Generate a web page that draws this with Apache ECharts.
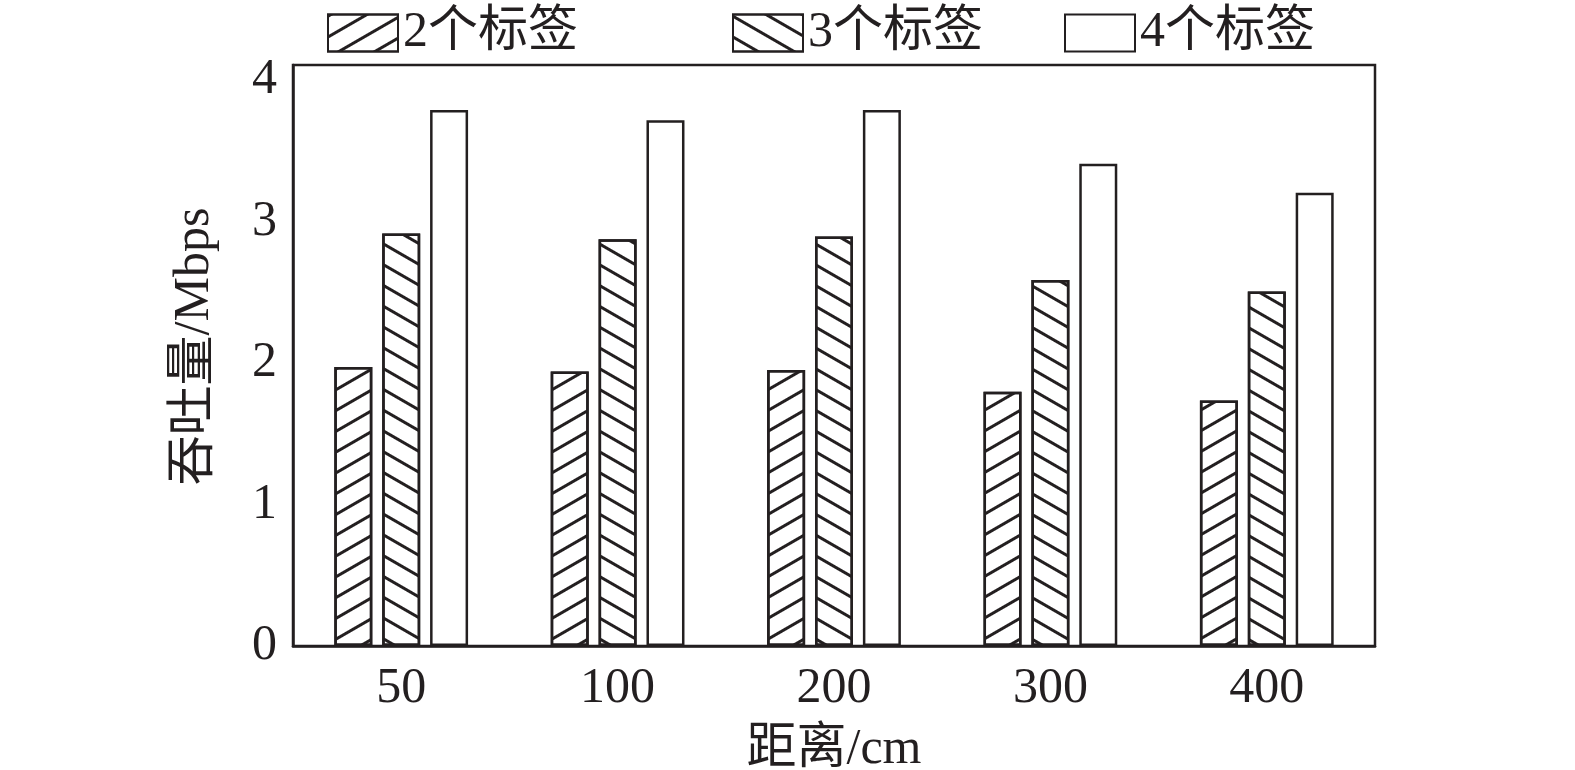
<!DOCTYPE html>
<html>
<head>
<meta charset="utf-8">
<script src="https://cdn.jsdelivr.net/npm/echarts@6/dist/echarts.min.js"></script>
<style>html,body{margin:0;padding:0;background:#fff}#c{width:1575px;height:770px}</style>
</head>
<body>
<div id="c"></div>
<script>
const categories = ['50', '100', '200', '300', '400'];
const seriesNames = ['2个标签', '3个标签', '4个标签'];
const tags2 = [1.92, 1.89, 1.90, 1.75, 1.69];
const tags3 = [2.84, 2.80, 2.82, 2.52, 2.44];
const tags4 = [3.69, 3.62, 3.69, 3.32, 3.12];
const yTicks = [0, 1, 2, 3, 4];

const INK = '#231f20';
const FONT = "'Liberation Serif', 'Noto Sans CJK SC', serif";

function hatch(rot) {
  return { symbol: 'rect', symbolSize: 1, color: INK, dashArrayX: [1, 0], dashArrayY: [3, 15], rotation: rot };
}
function barSeries(name, data, decal) {
  const s = {
    name: name, type: 'bar', data: data, barWidth: 38, barGap: '26%',
    xAxisIndex: 0, yAxisIndex: 0,
    itemStyle: { color: '#ffffff', borderColor: INK, borderWidth: 2.5 }
  };
  if (decal) s.itemStyle.decal = decal;
  return s;
}
function legendFor(name, left) {
  return {
    left: left, top: 3, itemWidth: 70, itemHeight: 37, icon: 'rect',
    textStyle: { fontFamily: FONT, fontSize: 50, color: INK },
    data: [name]
  };
}

const chart = echarts.init(document.getElementById('c'), null, { renderer: 'canvas' });
chart.setOption({
  animation: false,
  backgroundColor: '#ffffff',
  textStyle: { fontFamily: FONT, color: INK },
  legend: [legendFor(seriesNames[0], 322), legendFor(seriesNames[1], 727), legendFor(seriesNames[2], 1059)],
  grid: [
    { left: 293, right: 200, top: 65, bottom: 124, show: true, borderColor: INK, borderWidth: 2.5, containLabel: false, outerBoundsMode: 'none' },
    { left: 293, right: 200, top: 80, bottom: 124, show: false, containLabel: false, outerBoundsMode: 'none' }
  ],
  xAxis: [{
    type: 'category', data: categories, gridIndex: 0,
    name: '距离/cm', nameLocation: 'middle', nameGap: 79,
    nameTextStyle: { fontFamily: FONT, fontSize: 50, color: INK },
    axisLine: { lineStyle: { color: INK, width: 2.5 } },
    axisTick: { show: false },
    axisLabel: { fontFamily: FONT, fontSize: 50, color: INK, margin: 18 }
  }, {
    type: 'category', data: categories, gridIndex: 1, show: false
  }],
  yAxis: [{
    type: 'value', min: yTicks[0], max: yTicks[yTicks.length - 1], interval: 1, gridIndex: 0,
    name: '吞吐量/Mbps', nameLocation: 'middle', nameGap: 73, nameRotate: 90,
    nameTextStyle: { fontFamily: FONT, fontSize: 50, color: INK, padding: [0, 0, 0, 18] },
    axisLine: { show: true, lineStyle: { color: INK, width: 2.5 } },
    axisTick: { show: false },
    splitLine: { show: false },
    axisLabel: { show: false }
  }, {
    type: 'value', min: yTicks[0], max: yTicks[yTicks.length - 1], interval: 1, gridIndex: 1,
    axisLine: { show: false }, axisTick: { show: false }, splitLine: { show: false },
    axisLabel: { fontFamily: FONT, fontSize: 50, color: INK, margin: 16 }
  }],
  series: [
    barSeries(seriesNames[0], tags2, hatch(-Math.PI / 6)),
    barSeries(seriesNames[1], tags3, hatch(Math.PI / 6)),
    barSeries(seriesNames[2], tags4, null)
  ]
});
</script>
</body>
</html>
